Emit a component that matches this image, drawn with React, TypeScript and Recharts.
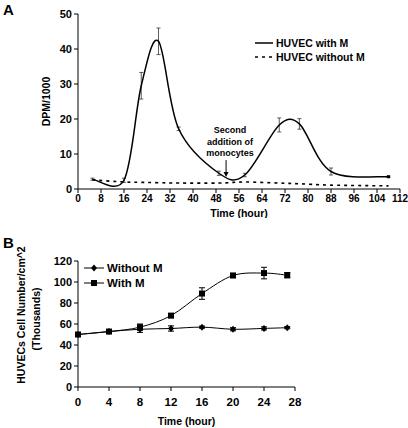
import {
  ErrorBar,
  Label,
  Legend,
  Line,
  LineChart,
  ReferenceDot,
  XAxis,
  YAxis,
} from "recharts";

// Panel A: thymidine incorporation
const hoursA = [5, 16, 22, 28, 35, 49, 58, 70, 77, 88, 108];
const withMA = [2.8, 2.5, 29.5, 42.2, 17.2, 4.5, 4.0, 18.3, 18.6, 5.0, 3.5];
const withMAErr = [0.3, 0.6, 3.8, 3.8, 0.5, 0.6, 0.5, 2.0, 1.5, 1.0, 0.2];
const withoutMA = [2.6, 2.0, 1.9, 1.8, 1.7, 1.7, 2.0, 1.7, 1.5, 1.1, 0.9];
const ticksXA = [0, 8, 16, 24, 32, 40, 48, 56, 64, 72, 80, 88, 96, 104, 112];
const ticksYA = [0, 10, 20, 30, 40, 50];

// Panel B: cell counts
const hoursB = [0, 4, 8, 12, 16, 20, 24, 27];
const withoutMB = [50, 52.8, 55, 55.7, 57, 55, 55.8, 56.5];
const withoutMBErr = [1, 1, 3, 2.5, 1, 1.5, 1.5, 1];
const withMB = [50, 52.8, 57, 68, 89, 106.2, 108.5, 106.5];
const withMBErr = [1, 1, 3, 2, 5.5, 2, 5.5, 2.5];
const ticksXB = [0, 4, 8, 12, 16, 20, 24, 28];
const ticksYB = [0, 20, 40, 60, 80, 100, 120];

const dataA = hoursA.map((h, i) => ({
  h,
  withM: withMA[i],
  withMErr: withMAErr[i],
  withoutM: withoutMA[i],
}));

const dataB = hoursB.map((h, i) => ({
  h,
  withoutM: withoutMB[i],
  withoutMErr: withoutMBErr[i],
  withM: withMB[i],
  withMErr: withMBErr[i],
}));

const FONT = "'Liberation Sans', Arial, sans-serif";
const tickStyle = { fill: "#000", fontSize: 11, fontWeight: 700, fontFamily: FONT };

const dist = (a: number[], b: number[]) => Math.hypot(a[0] - b[0], a[1] - b[1]);

// excel-like smoothed line: cardinal bezier, handles kept under half a segment
const smoothCurve: any = (context: any) => {
  let pts: number[][] = [];
  return {
    areaStart() {},
    areaEnd() {},
    lineStart() {
      pts = [];
    },
    point(x: number, y: number) {
      pts.push([+x, +y]);
    },
    lineEnd() {
      const n = pts.length;
      if (!n) return;
      context.moveTo(pts[0][0], pts[0][1]);
      for (let i = 0; i < n - 1; i++) {
        const p0 = pts[i - 1] || pts[i];
        const p1 = pts[i];
        const p2 = pts[i + 1];
        const p3 = pts[i + 2] || p2;
        const d12 = dist(p1, p2);
        const d02 = dist(p0, p2) || 1;
        const d13 = dist(p1, p3) || 1;
        const f1 = d02 / 6 < d12 / 2 ? 1 / 6 : d12 / d02 / 2;
        const f2 = d13 / 6 < d12 / 2 ? 1 / 6 : d12 / d13 / 2;
        context.bezierCurveTo(
          p1[0] + (p2[0] - p0[0]) * f1,
          p1[1] + (p2[1] - p0[1]) * f1,
          p2[0] - (p3[0] - p1[0]) * f2,
          p2[1] - (p3[1] - p1[1]) * f2,
          p2[0],
          p2[1]
        );
      }
    },
  };
};

const Diamond = (props: any) => {
  const { cx, cy } = props;
  if (cx == null || cy == null) return null;
  return <path d={`M${cx},${cy - 3.5}L${cx + 3},${cy}L${cx},${cy + 3.5}L${cx - 3},${cy}Z`} fill="#000" />;
};

const Square = (props: any) => {
  const { cx, cy } = props;
  if (cx == null || cy == null) return null;
  return <rect x={cx - 3} y={cy - 3} width={6} height={6} fill="#000" />;
};

const EndDot = (props: any) => {
  const { cx, cy, index } = props;
  if (index !== hoursA.length - 1) return null;
  return <rect x={cx - 1.5} y={cy - 1.5} width={3} height={3} fill="#000" />;
};

const Annotation = (props: any) => {
  const { cx, cy } = props;
  const t = { fontSize: 9, fontWeight: 700, fontFamily: FONT, fill: "#000" };
  return (
    <g>
      <line x1={cx} y1={cy - 17} x2={cx} y2={cy - 3} stroke="#000" strokeWidth={1} />
      <path d={`M${cx - 2.5},${cy - 5}L${cx},${cy}L${cx + 2.5},${cy - 5}Z`} fill="#000" />
      <text x={cx + 4} y={cy - 47} textAnchor="middle" dominantBaseline="central" style={t}>
        Second
      </text>
      <text x={cx + 4} y={cy - 35.5} textAnchor="middle" dominantBaseline="central" style={t}>
        addition of
      </text>
      <text x={cx + 4} y={cy - 24} textAnchor="middle" dominantBaseline="central" style={t}>
        monocytes
      </text>
    </g>
  );
};

const legendText = { fontSize: 10.5, fontWeight: 700, fontFamily: FONT, fill: "#000" };

const LegendA = () => (
  <svg width={120} height={30}>
    <line x1={0} y1={7} x2={18} y2={7} stroke="#000" strokeWidth={1.5} />
    <text x={21} y={7} dominantBaseline="central" style={legendText}>HUVEC with M</text>
    <line x1={0} y1={21} x2={18} y2={21} stroke="#000" strokeWidth={1.5} strokeDasharray="3 4" />
    <text x={21} y={21} dominantBaseline="central" style={legendText}>HUVEC without M</text>
  </svg>
);

const LegendB = () => (
  <svg width={90} height={32}>
    <line x1={0} y1={8} x2={20} y2={8} stroke="#000" strokeWidth={1} />
    <Diamond cx={10} cy={8} />
    <text x={23} y={8} dominantBaseline="central" style={{ ...legendText, fontSize: 11.5 }}>Without M</text>
    <line x1={0} y1={23} x2={20} y2={23} stroke="#000" strokeWidth={1} />
    <Square cx={10} cy={23} />
    <text x={23} y={23} dominantBaseline="central" style={{ ...legendText, fontSize: 11.5 }}>With M</text>
  </svg>
);

const titleStyle = { fontSize: 10.5, fontWeight: 700, fontFamily: FONT, fill: "#000" };

const YTitleA = (props: any) => {
  const vb = props.viewBox || { x: 0, y: 0, height: 0 };
  const x = vb.x + 8;
  const y = vb.y + vb.height / 2;
  return (
    <text x={x} y={y} transform={`rotate(-90, ${x}, ${y})`} textAnchor="middle" dominantBaseline="central" style={titleStyle}>
      DPM/1000
    </text>
  );
};

const YTitleB = (props: any) => {
  const vb = props.viewBox || { x: 0, y: 0, height: 0 };
  const y = vb.y + vb.height / 2 - 9;
  const x1 = vb.x + 11;
  const x2 = vb.x + 26;
  return (
    <g>
      <text x={x1} y={y} transform={`rotate(-90, ${x1}, ${y})`} textAnchor="middle" dominantBaseline="central" style={titleStyle}>
        HUVECs Cell Number/cm^2
      </text>
      <text x={x2} y={y + 4} transform={`rotate(-90, ${x2}, ${y + 4})`} textAnchor="middle" dominantBaseline="central" style={titleStyle}>
        (Thousands)
      </text>
    </g>
  );
};

export default function App() {
  return (
    <div style={{ position: "absolute", left: 0, top: 0, width: 408, height: 428, background: "#fff" }}>
      <div style={{ position: "absolute", left: 3, top: 1, font: `700 15px ${FONT}` }}>A</div>
      <div style={{ position: "absolute", left: 3, top: 234, font: `700 15px ${FONT}` }}>B</div>

      <div style={{ position: "absolute", left: 0, top: 0 }}>
        <LineChart width={408} height={218} data={dataA} margin={{ top: 14, right: 8, bottom: 0, left: 38 }}>
          <XAxis
            dataKey="h"
            type="number"
            domain={[0, 112]}
            ticks={ticksXA}
            interval={0}
            stroke="#000"
            tickSize={4}
            height={29}
            tick={{ ...tickStyle, fontSize: 10 }}
          >
            <Label position="insideBottom" offset={1} value="Time (hour)" style={titleStyle} />
          </XAxis>
          <YAxis
            type="number"
            domain={[0, 50]}
            ticks={ticksYA}
            interval={0}
            stroke="#000"
            tickSize={4}
            width={40}
            tick={tickStyle}
          >
            <Label content={<YTitleA />} />
          </YAxis>
          <Legend
            layout="vertical"
            align="center"
            verticalAlign="middle"
            content={<LegendA />}
            wrapperStyle={{ left: 255, top: 36, width: 120 }}
          />
          <Line
            dataKey="withoutM"
            type={smoothCurve}
            stroke="#000"
            strokeWidth={1.6}
            strokeDasharray="3 4"
            dot={false}
            isAnimationActive={false}
            legendType="none"
          />
          <Line
            dataKey="withM"
            type={smoothCurve}
            stroke="#000"
            strokeWidth={1.5}
            dot={<EndDot />}
            activeDot={false}
            isAnimationActive={false}
          >
            <ErrorBar dataKey="withMErr" width={2} stroke="#333" strokeWidth={0.8} direction="y" />
          </Line>
          <ReferenceDot x={51.5} y={3.4} r={0} shape={<Annotation />} ifOverflow="visible" />
        </LineChart>
      </div>

      <div style={{ position: "absolute", left: 0, top: 218 }}>
        <LineChart width={408} height={210} data={dataB} margin={{ top: 43, right: 113, bottom: 0, left: 10 }}>
          <XAxis
            dataKey="h"
            type="number"
            domain={[0, 28]}
            ticks={ticksXB}
            interval={0}
            stroke="#000"
            tickSize={4}
            tickMargin={7}
            height={41}
            tick={{ ...tickStyle, fontSize: 11.5 }}
          >
            <Label position="insideBottom" offset={3} value="Time (hour)" style={titleStyle} />
          </XAxis>
          <YAxis
            type="number"
            domain={[0, 120]}
            ticks={ticksYB}
            interval={0}
            stroke="#000"
            tickSize={4}
            width={68}
            tick={tickStyle}
          >
            <Label content={<YTitleB />} />
          </YAxis>
          <Legend
            layout="vertical"
            align="center"
            verticalAlign="middle"
            content={<LegendB />}
            wrapperStyle={{ left: 84, top: 42, width: 90 }}
          />
          <Line
            dataKey="withoutM"
            type={smoothCurve}
            stroke="#000"
            strokeWidth={1}
            dot={<Diamond />}
            activeDot={false}
            isAnimationActive={false}
          >
            <ErrorBar dataKey="withoutMErr" width={3} stroke="#000" strokeWidth={1} direction="y" />
          </Line>
          <Line
            dataKey="withM"
            type={smoothCurve}
            stroke="#000"
            strokeWidth={1}
            dot={<Square />}
            activeDot={false}
            isAnimationActive={false}
          >
            <ErrorBar dataKey="withMErr" width={3} stroke="#000" strokeWidth={1} direction="y" />
          </Line>
        </LineChart>
      </div>
    </div>
  );
}
